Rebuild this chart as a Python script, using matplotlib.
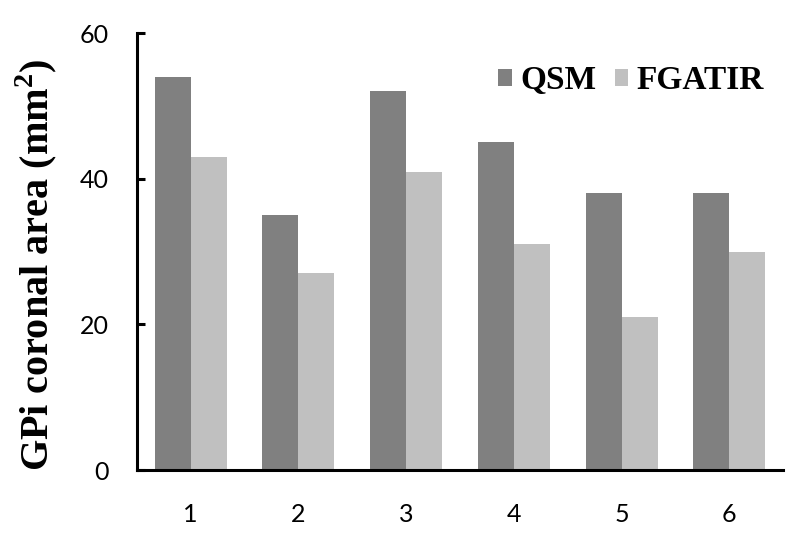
import numpy as np
from matplotlib import pyplot as plt

plt.rcParams['mathtext.fontset'] = 'custom'
plt.rcParams['mathtext.rm'] = 'Liberation Serif:bold'
plt.rcParams['mathtext.bf'] = 'Liberation Serif:bold'

# Data
subjects = ['1', '2', '3', '4', '5', '6']
qsm = [54, 35, 52, 45, 38, 38]
fgatir = [43, 27, 41, 31, 21, 30]

x = np.arange(len(subjects))
w = 1 / 3

fig = plt.figure(figsize=(8, 5.44), dpi=100)
ax = fig.add_axes([0.171, 0.136, 0.808, 0.803])

ax.bar(x - w / 2, qsm, w, color='#808080', label='QSM')
ax.bar(x + w / 2, fgatir, w, color='#c0c0c0', label='FGATIR')

ax.set_xlim(-0.5, len(subjects) - 0.5)
ax.set_ylim(0, 60)
ax.set_yticks([0, 20, 40, 60])
ax.set_xticks(x)
ax.set_xticklabels(subjects)

for s in ['top', 'right']:
    ax.spines[s].set_visible(False)
for s in ['left', 'bottom']:
    ax.spines[s].set_linewidth(2.2)

ax.tick_params(axis='x', length=0, pad=24)
ax.tick_params(axis='y', direction='in', length=6, width=2.2, pad=20)
for lab in ax.get_xticklabels() + ax.get_yticklabels():
    lab.set_fontfamily('Lato')
    lab.set_fontsize(18)

ax.set_ylabel('GPi coronal area (mm$^\\mathbf{2}$)', fontsize=29, fontweight='bold',
              fontfamily='Liberation Serif')
ax.yaxis.set_label_coords(-0.12, 0.47)

leg = ax.legend(loc='upper right', ncol=2, frameon=False, handlelength=0.4,
                handleheight=0.4, handletextpad=0.25, columnspacing=0.55,
                bbox_to_anchor=(1.016, 0.995),
                prop={'family': 'Liberation Serif', 'weight': 'bold', 'size': 24})

fig.savefig('out.png', dpi=100)
